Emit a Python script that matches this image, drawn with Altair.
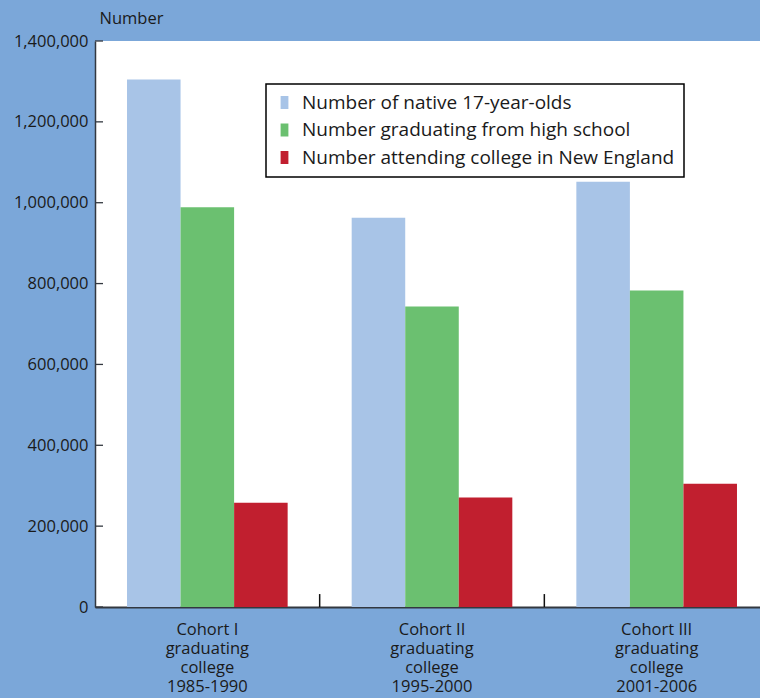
import altair as alt
import pandas as pd

# Cohorts along the x axis ("|" separates label lines)
cohorts = [
    "Cohort I|graduating|college|1985-1990",
    "Cohort II|graduating|college|1995-2000",
    "Cohort III|graduating|college|2001-2006",
]
series = [
    "Number of native 17-year-olds",
    "Number graduating from high school",
    "Number attending college in New England",
]
natives = [1305000, 963000, 1052000]
graduates = [989000, 743000, 783000]
attending = [258000, 271000, 305000]

y_ticks = [0, 200000, 400000, 600000, 800000, 1000000, 1200000, 1400000]
group_breaks = [1, 2]
colors = ["#A8C4E7", "#6BC070", "#C11F2F"]

FONT = "Open Sans"
INK = "#1a1a1a"
AXIS = "#333840"

rows = []
for i, c in enumerate(cohorts):
    for s, vals in zip(series, [natives, graduates, attending]):
        rows.append({"cohort": c, "series": s, "value": vals[i]})
df = pd.DataFrame(rows)

X_RANGE = [0, 674]
y_scale = alt.Scale(domain=[0, 1400000], nice=False, zero=True)

y_axis = alt.Axis(
    values=y_ticks,
    format=",d",
    grid=False,
    ticks=False,
    tickSize=0,
    labelPadding=7,
    labelFont=FONT,
    labelFontSize=16.5,
    labelColor=INK,
    domainColor=AXIS,
    domainWidth=1.5,
    title="Number",
    titleAngle=0,
    titleAlign="left",
    titleBaseline="alphabetic",
    titleX=4,
    titleY=-18,
    titleFont=FONT,
    titleFontSize=16.5,
    titleFontWeight="normal",
    titleColor=INK,
)

bars = alt.Chart(df).mark_bar().encode(
    x=alt.X(
        "cohort:N",
        sort=cohorts,
        scale=alt.Scale(range=X_RANGE, paddingInner=0.285, paddingOuter=0.1425),
        axis=alt.Axis(
            title=None,
            labelExpr="split(datum.value, '|')",
            labelAngle=0,
            labelFont=FONT,
            labelFontSize=16.5,
            labelLineHeight=19,
            labelColor=INK,
            labelPadding=14,
            ticks=False,
            domainColor=AXIS,
            domainWidth=2,
        ),
    ),
    xOffset=alt.XOffset("series:N", sort=series, scale=alt.Scale(paddingInner=0, paddingOuter=0)),
    y=alt.Y("value:Q", scale=y_scale, axis=y_axis),
    color=alt.Color(
        "series:N",
        sort=series,
        scale=alt.Scale(domain=series, range=colors),
        legend=alt.Legend(
            title=None,
            orient="none",
            legendX=171,
            legendY=43,
            fillColor="white",
            strokeColor="black",
            padding=9,
            cornerRadius=0,
            symbolType="M-0.6,-1H0.6V1H-0.6Z",
            symbolSize=169,
            symbolStrokeWidth=0,
            symbolOpacity=1,
            labelFont=FONT,
            labelFontSize=19,
            labelColor=INK,
            labelOffset=8,
            labelLimit=600,
            rowPadding=7.5,
        ),
    ),
)

# Inward tick marks on the value axis
value_ticks = alt.Chart(pd.DataFrame({"value": y_ticks})).mark_rule(
    color=AXIS, strokeWidth=1.3
).encode(
    y=alt.Y("value:Q", scale=y_scale, axis=y_axis),
    x=alt.value(0),
    x2=alt.value(8),
)

# Short upright marks between cohort groups
separators = alt.Chart(
    pd.DataFrame({"b": group_breaks, "value": [0, 0], "top": [32000, 32000]})
).mark_rule(color="#111111", strokeWidth=1.5).encode(
    x=alt.X("b:Q", scale=alt.Scale(domain=[0, 3], range=X_RANGE), axis=None),
    y=alt.Y("value:Q", scale=y_scale, axis=y_axis),
    y2="top:Q",
)

chart = (
    alt.layer(bars, value_ticks, separators)
    .resolve_scale(x="independent")
    .properties(
        width=665,
        height=566,
        autosize=alt.AutoSizeParams(type="none"),
        padding={"left": 95, "top": 41, "right": 0, "bottom": 91},
        background="#7BA7D9",
    )
    .configure_view(stroke=None, fill="white")
    .configure_legend(strokeWidth=1.5)
)

chart.save("out.html", embed_options={"renderer": "svg", "actions": False})
